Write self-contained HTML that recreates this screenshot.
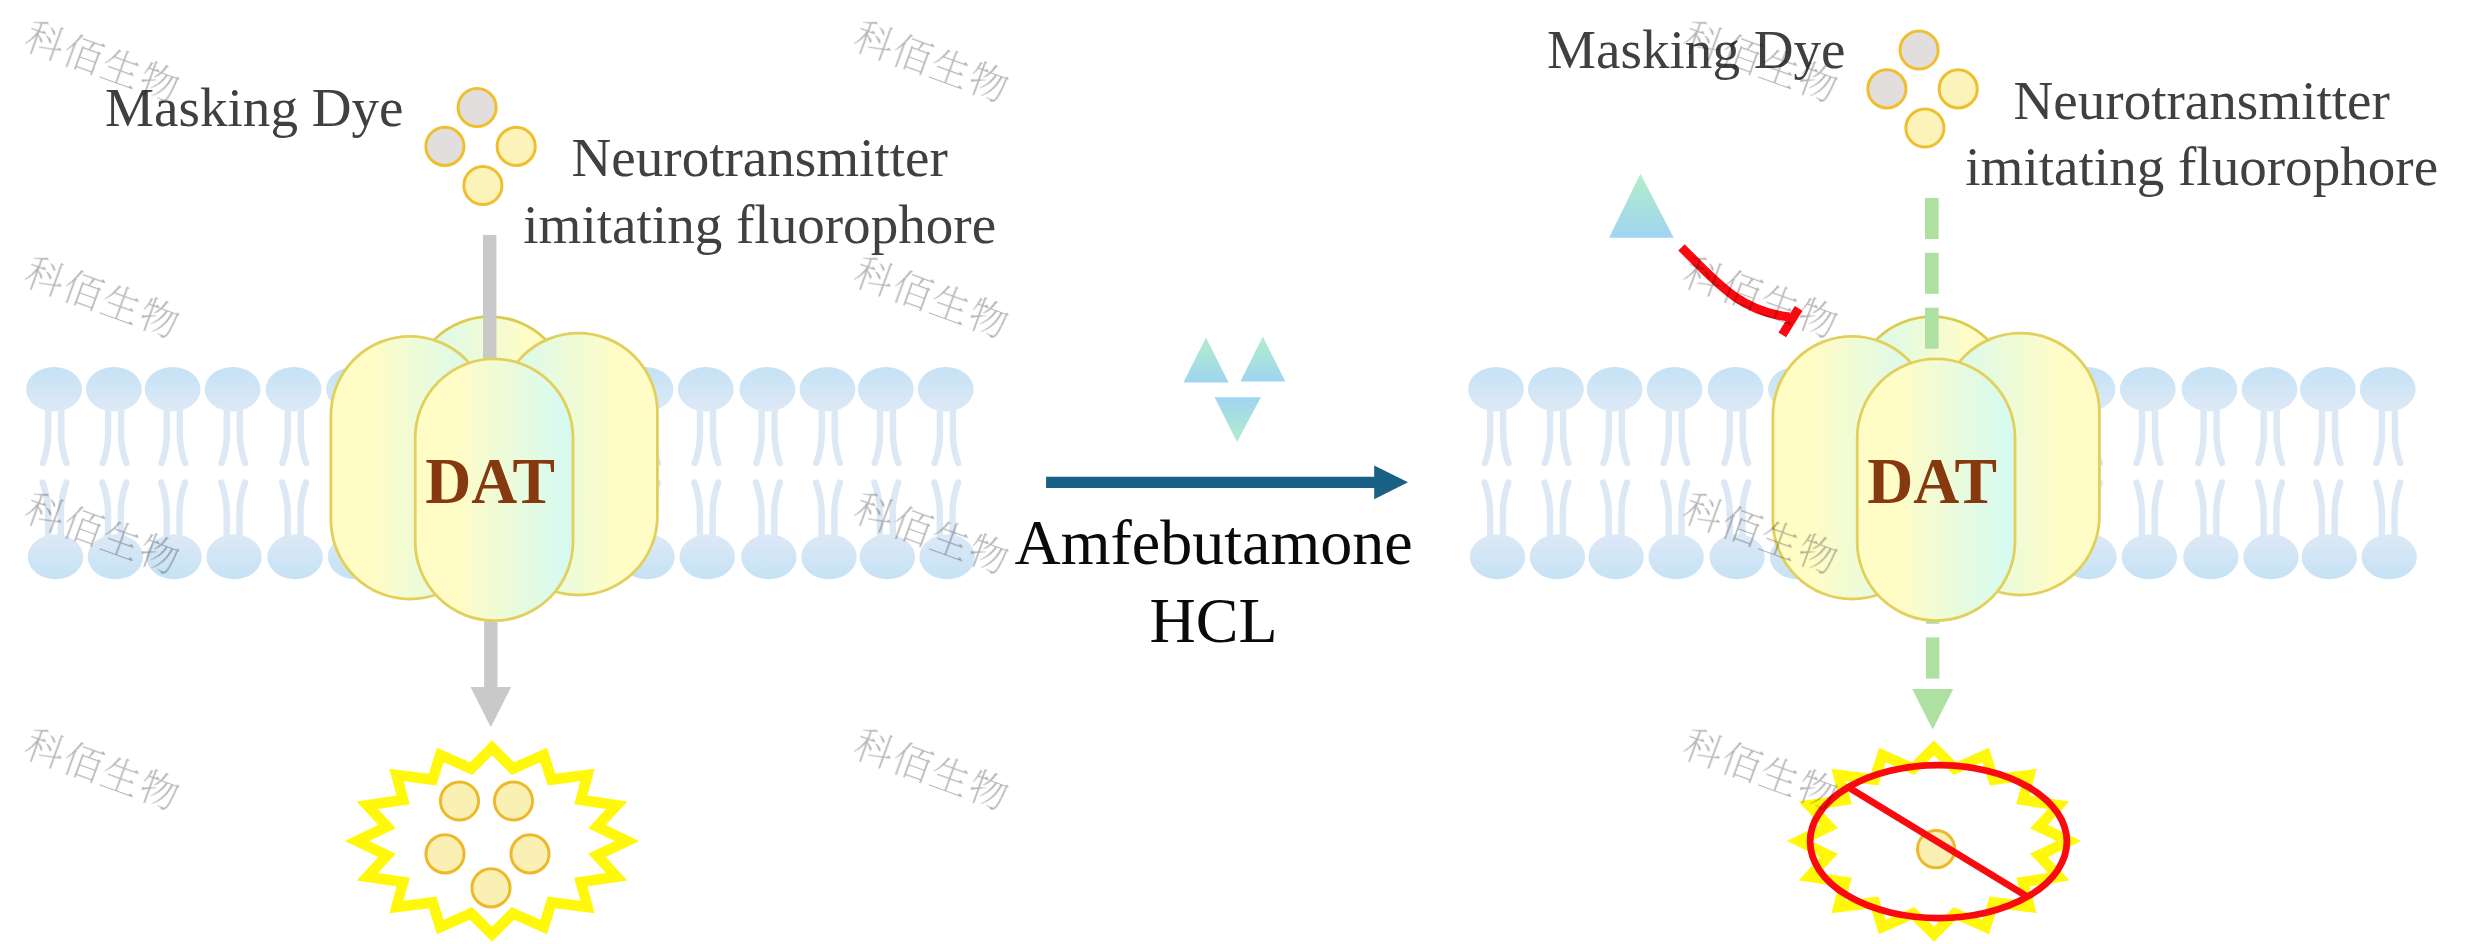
<!DOCTYPE html>
<html lang="en"><head><meta charset="utf-8"><title>DAT uptake assay</title>
<style>
html,body{margin:0;padding:0;background:#fff;}
body{width:2487px;height:944px;overflow:hidden;}
svg{display:block;}
.lbl{font-family:"Liberation Serif","Noto Serif CJK SC",serif;fill:#404040;font-size:55.1px;}
.dat{font-family:"Liberation Serif","Noto Serif CJK SC",serif;font-weight:bold;fill:#86390f;font-size:66px;}
.mid{font-family:"Liberation Serif","Noto Serif CJK SC",serif;fill:#0a0a0a;font-size:64px;}
.wm{font-family:"Liberation Serif","Noto Serif CJK SC",serif;font-weight:200;fill:#000;font-size:39px;letter-spacing:1.5px;}
</style></head><body>
<svg width="2487" height="944" viewBox="0 0 2487 944">
<defs>
<linearGradient id="hT" x1="0" y1="0" x2="0" y2="1"><stop offset="0" stop-color="#c5e2f5"/><stop offset="1" stop-color="#dde9f6"/></linearGradient>
<linearGradient id="hB" x1="0" y1="0" x2="0" y2="1"><stop offset="0" stop-color="#dde9f6"/><stop offset="1" stop-color="#c5e2f5"/></linearGradient>
<linearGradient id="yc" x1="0" y1="0" x2="1" y2="0"><stop offset="0" stop-color="#fffcc6"/><stop offset="0.26" stop-color="#fffcc6"/><stop offset="1" stop-color="#d4faf3"/></linearGradient>
<linearGradient id="cy" x1="0" y1="0" x2="1" y2="0"><stop offset="0" stop-color="#d4faf3"/><stop offset="0.74" stop-color="#fffcc6"/><stop offset="1" stop-color="#fffcc6"/></linearGradient>
<linearGradient id="tU" x1="0" y1="0" x2="0" y2="1"><stop offset="0" stop-color="#b2edcb"/><stop offset="1" stop-color="#9fd5f0"/></linearGradient>
<linearGradient id="tD" x1="0" y1="0" x2="0" y2="1"><stop offset="0" stop-color="#9fd5f0"/><stop offset="1" stop-color="#b2edcb"/></linearGradient>
</defs>
<rect width="2487" height="944" fill="#ffffff"/>
<g><path d="M48.2,408 V436 Q47.7,450 42.9,463 M61.2,408 V436 Q61.7,450 66.5,463" fill="none" stroke="#dde8f5" stroke-width="6.4" stroke-linecap="round"/><ellipse cx="54.0" cy="389.2" rx="27.9" ry="22.2" fill="url(#hT)"/><path d="M48.1,538 V510 Q47.6,497 42.6,482.5 M60.9,538 V510 Q61.4,497 66.4,482.5" fill="none" stroke="#dde8f5" stroke-width="6.4" stroke-linecap="round"/><ellipse cx="55.5" cy="556.8" rx="27.7" ry="22.5" fill="url(#hB)"/><path d="M108.1,408 V436 Q107.6,450 102.8,463 M121.1,408 V436 Q121.6,450 126.4,463" fill="none" stroke="#dde8f5" stroke-width="6.4" stroke-linecap="round"/><ellipse cx="113.9" cy="389.2" rx="27.9" ry="22.2" fill="url(#hT)"/><path d="M108.0,538 V510 Q107.5,497 102.5,482.5 M120.8,538 V510 Q121.3,497 126.3,482.5" fill="none" stroke="#dde8f5" stroke-width="6.4" stroke-linecap="round"/><ellipse cx="115.4" cy="556.8" rx="27.7" ry="22.5" fill="url(#hB)"/><path d="M166.8,408 V436 Q166.3,450 161.5,463 M179.8,408 V436 Q180.3,450 185.1,463" fill="none" stroke="#dde8f5" stroke-width="6.4" stroke-linecap="round"/><ellipse cx="172.6" cy="389.2" rx="27.9" ry="22.2" fill="url(#hT)"/><path d="M166.7,538 V510 Q166.2,497 161.2,482.5 M179.5,538 V510 Q180.0,497 185.0,482.5" fill="none" stroke="#dde8f5" stroke-width="6.4" stroke-linecap="round"/><ellipse cx="174.1" cy="556.8" rx="27.7" ry="22.5" fill="url(#hB)"/><path d="M226.8,408 V436 Q226.3,450 221.5,463 M239.8,408 V436 Q240.3,450 245.1,463" fill="none" stroke="#dde8f5" stroke-width="6.4" stroke-linecap="round"/><ellipse cx="232.6" cy="389.2" rx="27.9" ry="22.2" fill="url(#hT)"/><path d="M226.7,538 V510 Q226.2,497 221.2,482.5 M239.5,538 V510 Q240.0,497 245.0,482.5" fill="none" stroke="#dde8f5" stroke-width="6.4" stroke-linecap="round"/><ellipse cx="234.1" cy="556.8" rx="27.7" ry="22.5" fill="url(#hB)"/><path d="M287.8,408 V436 Q287.3,450 282.5,463 M300.8,408 V436 Q301.3,450 306.1,463" fill="none" stroke="#dde8f5" stroke-width="6.4" stroke-linecap="round"/><ellipse cx="293.6" cy="389.2" rx="27.9" ry="22.2" fill="url(#hT)"/><path d="M287.7,538 V510 Q287.2,497 282.2,482.5 M300.5,538 V510 Q301.0,497 306.0,482.5" fill="none" stroke="#dde8f5" stroke-width="6.4" stroke-linecap="round"/><ellipse cx="295.1" cy="556.8" rx="27.7" ry="22.5" fill="url(#hB)"/><path d="M348.2,408 V436 Q347.7,450 342.9,463 M361.2,408 V436 Q361.7,450 366.5,463" fill="none" stroke="#dde8f5" stroke-width="6.4" stroke-linecap="round"/><ellipse cx="354.0" cy="389.2" rx="27.9" ry="22.2" fill="url(#hT)"/><path d="M348.1,538 V510 Q347.6,497 342.6,482.5 M360.9,538 V510 Q361.4,497 366.4,482.5" fill="none" stroke="#dde8f5" stroke-width="6.4" stroke-linecap="round"/><ellipse cx="355.5" cy="556.8" rx="27.7" ry="22.5" fill="url(#hB)"/><path d="M639.7,408 V436 Q639.2,450 634.4,463 M652.7,408 V436 Q653.2,450 658.0,463" fill="none" stroke="#dde8f5" stroke-width="6.4" stroke-linecap="round"/><ellipse cx="645.5" cy="389.2" rx="27.9" ry="22.2" fill="url(#hT)"/><path d="M639.6,538 V510 Q639.1,497 634.1,482.5 M652.4,538 V510 Q652.9,497 657.9,482.5" fill="none" stroke="#dde8f5" stroke-width="6.4" stroke-linecap="round"/><ellipse cx="647.0" cy="556.8" rx="27.7" ry="22.5" fill="url(#hB)"/><path d="M700.0,408 V436 Q699.5,450 694.7,463 M713.0,408 V436 Q713.5,450 718.3,463" fill="none" stroke="#dde8f5" stroke-width="6.4" stroke-linecap="round"/><ellipse cx="705.8" cy="389.2" rx="27.9" ry="22.2" fill="url(#hT)"/><path d="M699.9,538 V510 Q699.4,497 694.4,482.5 M712.7,538 V510 Q713.2,497 718.2,482.5" fill="none" stroke="#dde8f5" stroke-width="6.4" stroke-linecap="round"/><ellipse cx="707.3" cy="556.8" rx="27.7" ry="22.5" fill="url(#hB)"/><path d="M761.6,408 V436 Q761.1,450 756.3,463 M774.6,408 V436 Q775.1,450 779.9,463" fill="none" stroke="#dde8f5" stroke-width="6.4" stroke-linecap="round"/><ellipse cx="767.4" cy="389.2" rx="27.9" ry="22.2" fill="url(#hT)"/><path d="M761.5,538 V510 Q761.0,497 756.0,482.5 M774.3,538 V510 Q774.8,497 779.8,482.5" fill="none" stroke="#dde8f5" stroke-width="6.4" stroke-linecap="round"/><ellipse cx="768.9" cy="556.8" rx="27.7" ry="22.5" fill="url(#hB)"/><path d="M821.7,408 V436 Q821.2,450 816.4,463 M834.7,408 V436 Q835.2,450 840.0,463" fill="none" stroke="#dde8f5" stroke-width="6.4" stroke-linecap="round"/><ellipse cx="827.5" cy="389.2" rx="27.9" ry="22.2" fill="url(#hT)"/><path d="M821.6,538 V510 Q821.1,497 816.1,482.5 M834.4,538 V510 Q834.9,497 839.9,482.5" fill="none" stroke="#dde8f5" stroke-width="6.4" stroke-linecap="round"/><ellipse cx="829.0" cy="556.8" rx="27.7" ry="22.5" fill="url(#hB)"/><path d="M880.0,408 V436 Q879.5,450 874.7,463 M893.0,408 V436 Q893.5,450 898.3,463" fill="none" stroke="#dde8f5" stroke-width="6.4" stroke-linecap="round"/><ellipse cx="885.8" cy="389.2" rx="27.9" ry="22.2" fill="url(#hT)"/><path d="M879.9,538 V510 Q879.4,497 874.4,482.5 M892.7,538 V510 Q893.2,497 898.2,482.5" fill="none" stroke="#dde8f5" stroke-width="6.4" stroke-linecap="round"/><ellipse cx="887.3" cy="556.8" rx="27.7" ry="22.5" fill="url(#hB)"/><path d="M939.9,408 V436 Q939.4,450 934.6,463 M952.9,408 V436 Q953.4,450 958.2,463" fill="none" stroke="#dde8f5" stroke-width="6.4" stroke-linecap="round"/><ellipse cx="945.7" cy="389.2" rx="27.9" ry="22.2" fill="url(#hT)"/><path d="M939.8,538 V510 Q939.3,497 934.3,482.5 M952.6,538 V510 Q953.1,497 958.1,482.5" fill="none" stroke="#dde8f5" stroke-width="6.4" stroke-linecap="round"/><ellipse cx="947.2" cy="556.8" rx="27.7" ry="22.5" fill="url(#hB)"/></g>
<g><path d="M1490.2,408 V436 Q1489.7,450 1484.9,463 M1503.2,408 V436 Q1503.7,450 1508.5,463" fill="none" stroke="#dde8f5" stroke-width="6.4" stroke-linecap="round"/><ellipse cx="1496.0" cy="389.2" rx="27.9" ry="22.2" fill="url(#hT)"/><path d="M1490.1,538 V510 Q1489.6,497 1484.6,482.5 M1502.9,538 V510 Q1503.4,497 1508.4,482.5" fill="none" stroke="#dde8f5" stroke-width="6.4" stroke-linecap="round"/><ellipse cx="1497.5" cy="556.8" rx="27.7" ry="22.5" fill="url(#hB)"/><path d="M1550.1,408 V436 Q1549.6,450 1544.8,463 M1563.1,408 V436 Q1563.6,450 1568.4,463" fill="none" stroke="#dde8f5" stroke-width="6.4" stroke-linecap="round"/><ellipse cx="1555.9" cy="389.2" rx="27.9" ry="22.2" fill="url(#hT)"/><path d="M1550.0,538 V510 Q1549.5,497 1544.5,482.5 M1562.8,538 V510 Q1563.3,497 1568.3,482.5" fill="none" stroke="#dde8f5" stroke-width="6.4" stroke-linecap="round"/><ellipse cx="1557.4" cy="556.8" rx="27.7" ry="22.5" fill="url(#hB)"/><path d="M1608.8,408 V436 Q1608.3,450 1603.5,463 M1621.8,408 V436 Q1622.3,450 1627.1,463" fill="none" stroke="#dde8f5" stroke-width="6.4" stroke-linecap="round"/><ellipse cx="1614.6" cy="389.2" rx="27.9" ry="22.2" fill="url(#hT)"/><path d="M1608.7,538 V510 Q1608.2,497 1603.2,482.5 M1621.5,538 V510 Q1622.0,497 1627.0,482.5" fill="none" stroke="#dde8f5" stroke-width="6.4" stroke-linecap="round"/><ellipse cx="1616.1" cy="556.8" rx="27.7" ry="22.5" fill="url(#hB)"/><path d="M1668.8,408 V436 Q1668.3,450 1663.5,463 M1681.8,408 V436 Q1682.3,450 1687.1,463" fill="none" stroke="#dde8f5" stroke-width="6.4" stroke-linecap="round"/><ellipse cx="1674.6" cy="389.2" rx="27.9" ry="22.2" fill="url(#hT)"/><path d="M1668.7,538 V510 Q1668.2,497 1663.2,482.5 M1681.5,538 V510 Q1682.0,497 1687.0,482.5" fill="none" stroke="#dde8f5" stroke-width="6.4" stroke-linecap="round"/><ellipse cx="1676.1" cy="556.8" rx="27.7" ry="22.5" fill="url(#hB)"/><path d="M1729.8,408 V436 Q1729.3,450 1724.5,463 M1742.8,408 V436 Q1743.3,450 1748.1,463" fill="none" stroke="#dde8f5" stroke-width="6.4" stroke-linecap="round"/><ellipse cx="1735.6" cy="389.2" rx="27.9" ry="22.2" fill="url(#hT)"/><path d="M1729.7,538 V510 Q1729.2,497 1724.2,482.5 M1742.5,538 V510 Q1743.0,497 1748.0,482.5" fill="none" stroke="#dde8f5" stroke-width="6.4" stroke-linecap="round"/><ellipse cx="1737.1" cy="556.8" rx="27.7" ry="22.5" fill="url(#hB)"/><path d="M1790.2,408 V436 Q1789.7,450 1784.9,463 M1803.2,408 V436 Q1803.7,450 1808.5,463" fill="none" stroke="#dde8f5" stroke-width="6.4" stroke-linecap="round"/><ellipse cx="1796.0" cy="389.2" rx="27.9" ry="22.2" fill="url(#hT)"/><path d="M1790.1,538 V510 Q1789.6,497 1784.6,482.5 M1802.9,538 V510 Q1803.4,497 1808.4,482.5" fill="none" stroke="#dde8f5" stroke-width="6.4" stroke-linecap="round"/><ellipse cx="1797.5" cy="556.8" rx="27.7" ry="22.5" fill="url(#hB)"/><path d="M2081.7,408 V436 Q2081.2,450 2076.4,463 M2094.7,408 V436 Q2095.2,450 2100.0,463" fill="none" stroke="#dde8f5" stroke-width="6.4" stroke-linecap="round"/><ellipse cx="2087.5" cy="389.2" rx="27.9" ry="22.2" fill="url(#hT)"/><path d="M2081.6,538 V510 Q2081.1,497 2076.1,482.5 M2094.4,538 V510 Q2094.9,497 2099.9,482.5" fill="none" stroke="#dde8f5" stroke-width="6.4" stroke-linecap="round"/><ellipse cx="2089.0" cy="556.8" rx="27.7" ry="22.5" fill="url(#hB)"/><path d="M2142.0,408 V436 Q2141.5,450 2136.7,463 M2155.0,408 V436 Q2155.5,450 2160.3,463" fill="none" stroke="#dde8f5" stroke-width="6.4" stroke-linecap="round"/><ellipse cx="2147.8" cy="389.2" rx="27.9" ry="22.2" fill="url(#hT)"/><path d="M2141.9,538 V510 Q2141.4,497 2136.4,482.5 M2154.7,538 V510 Q2155.2,497 2160.2,482.5" fill="none" stroke="#dde8f5" stroke-width="6.4" stroke-linecap="round"/><ellipse cx="2149.3" cy="556.8" rx="27.7" ry="22.5" fill="url(#hB)"/><path d="M2203.6,408 V436 Q2203.1,450 2198.3,463 M2216.6,408 V436 Q2217.1,450 2221.9,463" fill="none" stroke="#dde8f5" stroke-width="6.4" stroke-linecap="round"/><ellipse cx="2209.4" cy="389.2" rx="27.9" ry="22.2" fill="url(#hT)"/><path d="M2203.5,538 V510 Q2203.0,497 2198.0,482.5 M2216.3,538 V510 Q2216.8,497 2221.8,482.5" fill="none" stroke="#dde8f5" stroke-width="6.4" stroke-linecap="round"/><ellipse cx="2210.9" cy="556.8" rx="27.7" ry="22.5" fill="url(#hB)"/><path d="M2263.7,408 V436 Q2263.2,450 2258.4,463 M2276.7,408 V436 Q2277.2,450 2282.0,463" fill="none" stroke="#dde8f5" stroke-width="6.4" stroke-linecap="round"/><ellipse cx="2269.5" cy="389.2" rx="27.9" ry="22.2" fill="url(#hT)"/><path d="M2263.6,538 V510 Q2263.1,497 2258.1,482.5 M2276.4,538 V510 Q2276.9,497 2281.9,482.5" fill="none" stroke="#dde8f5" stroke-width="6.4" stroke-linecap="round"/><ellipse cx="2271.0" cy="556.8" rx="27.7" ry="22.5" fill="url(#hB)"/><path d="M2322.0,408 V436 Q2321.5,450 2316.7,463 M2335.0,408 V436 Q2335.5,450 2340.3,463" fill="none" stroke="#dde8f5" stroke-width="6.4" stroke-linecap="round"/><ellipse cx="2327.8" cy="389.2" rx="27.9" ry="22.2" fill="url(#hT)"/><path d="M2321.9,538 V510 Q2321.4,497 2316.4,482.5 M2334.7,538 V510 Q2335.2,497 2340.2,482.5" fill="none" stroke="#dde8f5" stroke-width="6.4" stroke-linecap="round"/><ellipse cx="2329.3" cy="556.8" rx="27.7" ry="22.5" fill="url(#hB)"/><path d="M2381.9,408 V436 Q2381.4,450 2376.6,463 M2394.9,408 V436 Q2395.4,450 2400.2,463" fill="none" stroke="#dde8f5" stroke-width="6.4" stroke-linecap="round"/><ellipse cx="2387.7" cy="389.2" rx="27.9" ry="22.2" fill="url(#hT)"/><path d="M2381.8,538 V510 Q2381.3,497 2376.3,482.5 M2394.6,538 V510 Q2395.1,497 2400.1,482.5" fill="none" stroke="#dde8f5" stroke-width="6.4" stroke-linecap="round"/><ellipse cx="2389.2" cy="556.8" rx="27.7" ry="22.5" fill="url(#hB)"/></g>
<rect x="410.90" y="316.70" width="158.20" height="260.90" rx="79.10" ry="79.10" fill="url(#cy)" stroke="#dbca4c" stroke-width="2.8"/>
<rect x="483.0" y="235" width="13.4" height="200" fill="#c9c9c9"/><rect x="484.1" y="560" width="13.4" height="130" fill="#c9c9c9"/><path d="M470.5,687 H511.1 L490.8,727.2 Z" fill="#c9c9c9"/>
<rect x="330.90" y="336.30" width="158.20" height="262.80" rx="79.10" ry="79.10" fill="url(#yc)" stroke="#e2d05c" stroke-width="2.8"/>
<rect x="499.40" y="333.10" width="158.00" height="261.90" rx="79.00" ry="79.00" fill="url(#cy)" stroke="#e2d05c" stroke-width="2.8"/>

<rect x="415.20" y="358.90" width="157.80" height="261.80" rx="78.90" ry="78.90" fill="url(#yc)" stroke="#e2d05c" stroke-width="2.8"/>
<text class="dat" transform="translate(490.2,503) scale(0.965,1)" text-anchor="middle">DAT</text>
<rect x="1852.90" y="316.70" width="158.20" height="260.90" rx="79.10" ry="79.10" fill="url(#cy)" stroke="#dbca4c" stroke-width="2.8"/>
<rect x="1925.0" y="198.0" width="13.6" height="41.0" fill="#aee0a2"/><rect x="1925.0" y="252.8" width="13.6" height="41.0" fill="#aee0a2"/><rect x="1925.0" y="307.7" width="13.6" height="41.0" fill="#aee0a2"/><rect x="1926.0" y="590" width="13.4" height="33.8" fill="#aee0a2"/><rect x="1926.0" y="637.4" width="13.4" height="41.2" fill="#aee0a2"/><path d="M1912.2,689 H1953.2 L1932.7,729.6 Z" fill="#aee0a2"/>
<rect x="1772.90" y="336.30" width="158.20" height="262.80" rx="79.10" ry="79.10" fill="url(#yc)" stroke="#e2d05c" stroke-width="2.8"/>
<rect x="1941.40" y="333.10" width="158.00" height="261.90" rx="79.00" ry="79.00" fill="url(#cy)" stroke="#e2d05c" stroke-width="2.8"/>

<rect x="1857.20" y="358.90" width="157.80" height="261.80" rx="78.90" ry="78.90" fill="url(#yc)" stroke="#e2d05c" stroke-width="2.8"/>
<text class="dat" transform="translate(1932.2,503) scale(0.965,1)" text-anchor="middle">DAT</text>
<circle cx="477.1" cy="107.5" r="19.05" fill="#e2dede" stroke="#efbf2f" stroke-width="3.0"/><circle cx="444.9" cy="146.4" r="19.05" fill="#e2dede" stroke="#efbf2f" stroke-width="3.0"/><circle cx="516.2" cy="146.4" r="19.05" fill="#fbf3b9" stroke="#efbf2f" stroke-width="3.0"/><circle cx="482.9" cy="185.5" r="19.05" fill="#fbf3b9" stroke="#efbf2f" stroke-width="3.0"/><text class="lbl" x="105.1" y="125.6">Masking Dye</text><text class="lbl" x="759.7" y="176.3" text-anchor="middle">Neurotransmitter</text><text class="lbl" x="759.7" y="242.8" text-anchor="middle">imitating fluorophore</text>
<circle cx="1919.1" cy="50.0" r="19.05" fill="#e2dede" stroke="#efbf2f" stroke-width="3.0"/><circle cx="1886.9" cy="88.9" r="19.05" fill="#e2dede" stroke="#efbf2f" stroke-width="3.0"/><circle cx="1958.2" cy="88.9" r="19.05" fill="#fbf3b9" stroke="#efbf2f" stroke-width="3.0"/><circle cx="1924.9" cy="128.0" r="19.05" fill="#fbf3b9" stroke="#efbf2f" stroke-width="3.0"/><text class="lbl" x="1547.1" y="68.1">Masking Dye</text><text class="lbl" x="2201.7" y="118.8" text-anchor="middle">Neurotransmitter</text><text class="lbl" x="2201.7" y="185.3" text-anchor="middle">imitating fluorophore</text>
<path d="M492.0,747.8 L512.9,768.6 L543.7,754.9 L551.4,779.6 L587.5,775.1 L580.9,800.0 L616.7,805.3 L596.9,826.6 L627.0,841.0 L596.9,855.4 L616.7,876.7 L580.9,882.0 L587.5,906.9 L551.4,902.4 L543.7,927.1 L512.9,913.4 L492.0,934.2 L471.1,913.4 L440.3,927.1 L432.6,902.4 L396.5,906.9 L403.1,882.0 L367.3,876.7 L387.1,855.4 L357.0,841.0 L387.1,826.6 L367.3,805.3 L403.1,800.0 L396.5,775.1 L432.6,779.6 L440.3,754.9 L471.1,768.6 Z" fill="none" stroke="#fff80a" stroke-width="10.6" stroke-linejoin="miter" stroke-miterlimit="10"/><circle cx="459.5" cy="801.0" r="19.05" fill="#faf0b4" stroke="#edb92b" stroke-width="3.0"/><circle cx="513.5" cy="801.0" r="19.05" fill="#faf0b4" stroke="#edb92b" stroke-width="3.0"/><circle cx="445.0" cy="853.9" r="19.05" fill="#faf0b4" stroke="#edb92b" stroke-width="3.0"/><circle cx="530.0" cy="853.9" r="19.05" fill="#faf0b4" stroke="#edb92b" stroke-width="3.0"/><circle cx="491.0" cy="887.9" r="19.05" fill="#faf0b4" stroke="#edb92b" stroke-width="3.0"/>
<path d="M1934.0,747.8 L1954.9,768.6 L1985.7,754.9 L1993.4,779.6 L2029.5,775.1 L2022.9,800.0 L2058.7,805.3 L2038.9,826.6 L2069.0,841.0 L2038.9,855.4 L2058.7,876.7 L2022.9,882.0 L2029.5,906.9 L1993.4,902.4 L1985.7,927.1 L1954.9,913.4 L1934.0,934.2 L1913.1,913.4 L1882.3,927.1 L1874.6,902.4 L1838.5,906.9 L1845.1,882.0 L1809.3,876.7 L1829.1,855.4 L1799.0,841.0 L1829.1,826.6 L1809.3,805.3 L1845.1,800.0 L1838.5,775.1 L1874.6,779.6 L1882.3,754.9 L1913.1,768.6 Z" fill="none" stroke="#fff80a" stroke-width="10.6" stroke-linejoin="miter" stroke-miterlimit="10"/><circle cx="1936.1" cy="849.2" r="18.6" fill="#faf0b4" stroke="#edb92b" stroke-width="3.0"/><ellipse cx="1938.5" cy="841.6" rx="128.4" ry="76.5" fill="none" stroke="#f80a0e" stroke-width="6.8"/><path d="M1849.3,787.8 L2027.3,896.6" stroke="#f80a0e" stroke-width="6.8" fill="none"/>
<path d="M1206,337.5 L1228.5,382.6 H1183.4 Z" fill="url(#tU)"/><path d="M1262.8,336.6 L1285.4,381.6 H1240.4 Z" fill="url(#tU)"/><path d="M1214.6,397.2 H1260.9 L1237,442 Z" fill="url(#tD)"/><path d="M1046.1,476.7 H1374.2 V465.4 L1408,482.3 L1374.2,499.2 V487.9 H1046.1 Z" fill="#186084"/><text class="mid" x="1213.6" y="564.3" text-anchor="middle">Amfebutamone</text><text class="mid" x="1213.6" y="641.9" text-anchor="middle">HCL</text>
<path d="M1640.4,173.8 L1673.7,237.7 H1609.1 Z" fill="url(#tU)"/><path d="M1681.5,247.3 C1715,281 1740,312 1790,317" fill="none" stroke="#fa0a10" stroke-width="9"/><path d="M1798.7,308.3 L1782.3,334.8" fill="none" stroke="#fa0a10" stroke-width="9"/>
<g opacity="0.29"><text class="wm" transform="translate(22.2,47.1) rotate(20)">科佰生物</text><text class="wm" transform="translate(22.2,283.0) rotate(20)">科佰生物</text><text class="wm" transform="translate(22.2,519.0) rotate(20)">科佰生物</text><text class="wm" transform="translate(22.2,755.0) rotate(20)">科佰生物</text><text class="wm" transform="translate(851.4,47.1) rotate(20)">科佰生物</text><text class="wm" transform="translate(851.4,283.0) rotate(20)">科佰生物</text><text class="wm" transform="translate(851.4,519.0) rotate(20)">科佰生物</text><text class="wm" transform="translate(851.4,755.0) rotate(20)">科佰生物</text><text class="wm" transform="translate(1680.6,47.1) rotate(20)">科佰生物</text><text class="wm" transform="translate(1680.6,283.0) rotate(20)">科佰生物</text><text class="wm" transform="translate(1680.6,519.0) rotate(20)">科佰生物</text><text class="wm" transform="translate(1680.6,755.0) rotate(20)">科佰生物</text></g>
</svg></body></html>
